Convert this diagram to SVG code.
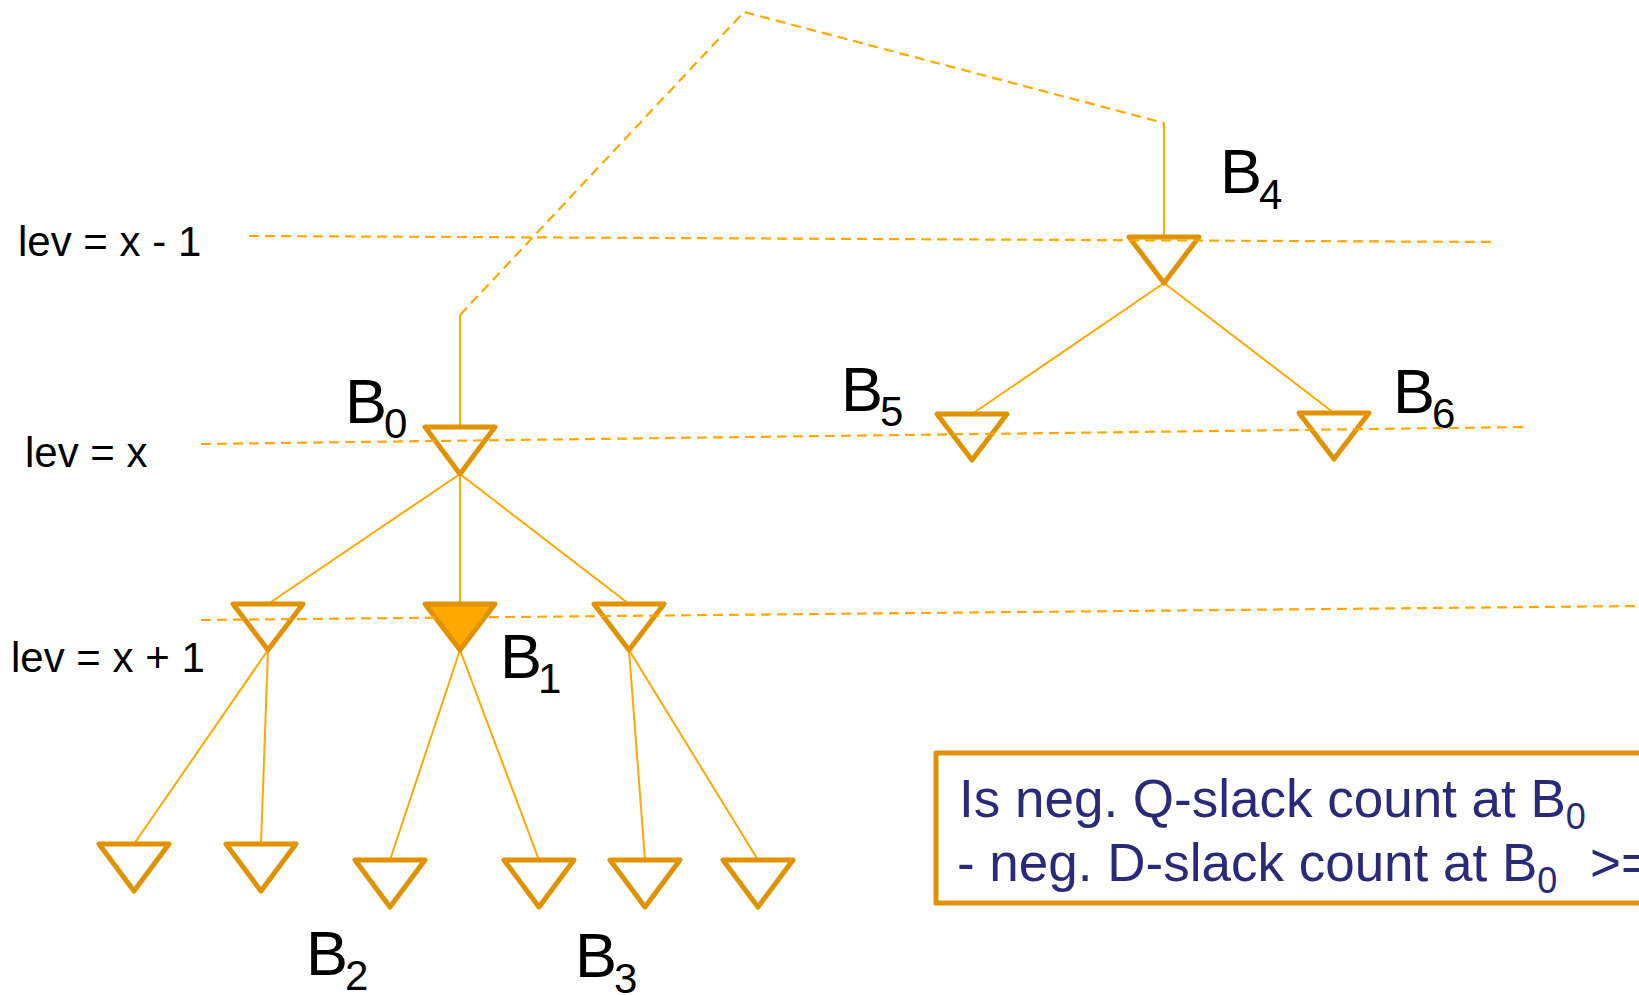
<svg xmlns="http://www.w3.org/2000/svg" width="1639" height="995" viewBox="0 0 1639 995">
  <style>
    .buf { fill: #ffffff; stroke: #E09200; stroke-width: 5; stroke-linejoin: round; }
    .buf.sel { fill: #FFA800; }
    .wire { fill: none; stroke: #FFA800; stroke-width: 2; }
    .dash { fill: none; stroke: #FFA800; stroke-width: 2.2; stroke-dasharray: 10 6; }
    .lvl { font-family: "Liberation Sans", Arial, sans-serif; font-size: 42px; fill: #000; }
    .lbl { font-family: "Liberation Sans", Arial, sans-serif; font-size: 63px; fill: #000; }
    .sub { font-size: 42px; }
    .note { font-family: "Liberation Sans", Arial, sans-serif; font-size: 53px; fill: #2A2A78; }
    .note .s { font-size: 36px; }
    .box { fill: #ffffff; stroke: #E09200; stroke-width: 5; stroke-linejoin: round; }
  </style>

  <rect width="1639" height="995" fill="#ffffff"/>

  <!-- level captions -->
  <text class="lvl" x="18" y="256">lev = x - 1</text>
  <text class="lvl" x="25" y="467">lev = x</text>
  <text class="lvl" x="11" y="672">lev = x + 1</text>

  <!-- connectors -->
  <g id="connectors">
    <!-- upstream route from B0 to B4 -->
    <line class="wire" x1="460" y1="427" x2="460" y2="315"/>
    <polyline class="dash" points="460,315 744,12 1164,123"/>
    <line class="wire" x1="1164" y1="123" x2="1164" y2="237"/>
    <!-- B4 fan-out -->
    <line class="wire" x1="1164" y1="283" x2="972" y2="414"/>
    <line class="wire" x1="1164" y1="283" x2="1334" y2="413"/>
    <!-- B0 fan-out -->
    <line class="wire" x1="460" y1="474" x2="268" y2="604"/>
    <line class="wire" x1="460" y1="474" x2="460" y2="604"/>
    <line class="wire" x1="460" y1="474" x2="629" y2="604"/>
    <!-- level x+1 fan-out -->
    <line class="wire" x1="268" y1="650" x2="134" y2="844"/>
    <line class="wire" x1="268" y1="650" x2="261" y2="844"/>
    <line class="wire" x1="460" y1="650" x2="390" y2="860"/>
    <line class="wire" x1="460" y1="650" x2="539" y2="860"/>
    <line class="wire" x1="629" y1="650" x2="645" y2="860"/>
    <line class="wire" x1="629" y1="650" x2="758" y2="860"/>
  </g>

  <!-- buffers -->
  <g id="B4">
    <path class="buf" d="M1129,237 L1199,237 L1164,283 Z"/>
    <text class="lbl" x="1220" y="193">B<tspan class="sub" x="1259" y="209">4</tspan></text>
  </g>
  <g id="B0">
    <path class="buf" d="M425,427 L495,427 L460,474 Z"/>
    <text class="lbl" x="345" y="423">B<tspan class="sub" x="384" y="438">0</tspan></text>
  </g>
  <g id="B5">
    <path class="buf" d="M937,414 L1007,414 L972,460 Z"/>
    <text class="lbl" x="841" y="411">B<tspan class="sub" x="880" y="426">5</tspan></text>
  </g>
  <g id="B6">
    <path class="buf" d="M1299,413 L1369,413 L1334,459 Z"/>
    <text class="lbl" x="1393" y="413">B<tspan class="sub" x="1432" y="428">6</tspan></text>
  </g>
  <g id="n-x1-left">
    <path class="buf" d="M233,604 L303,604 L268,650 Z"/>
  </g>
  <g id="B1">
    <path class="buf sel" d="M425,604 L495,604 L460,650 Z"/>
    <text class="lbl" x="500" y="678">B<tspan class="sub" x="538" y="693">1</tspan></text>
  </g>
  <g id="n-x1-right">
    <path class="buf" d="M594,604 L664,604 L629,650 Z"/>
  </g>
  <g id="n-leaf-1">
    <path class="buf" d="M99,844 L169,844 L134,891 Z"/>
  </g>
  <g id="n-leaf-2">
    <path class="buf" d="M226,844 L296,844 L261,891 Z"/>
  </g>
  <g id="n-leaf-3">
    <path class="buf" d="M355,860 L425,860 L390,907 Z"/>
  </g>
  <g id="n-leaf-4">
    <path class="buf" d="M504,860 L574,860 L539,907 Z"/>
  </g>
  <g id="n-leaf-5">
    <path class="buf" d="M610,860 L680,860 L645,907 Z"/>
  </g>
  <g id="n-leaf-6">
    <path class="buf" d="M723,860 L793,860 L758,907 Z"/>
  </g>
  <g id="B2">
    <text class="lbl" x="306" y="975">B<tspan class="sub" x="345" y="990">2</tspan></text>
  </g>
  <g id="B3">
    <text class="lbl" x="575" y="977">B<tspan class="sub" x="614" y="993">3</tspan></text>
  </g>

  <!-- level guides -->
  <g id="levels">
    <line class="dash" x1="249" y1="236" x2="1497" y2="242"/>
    <line class="dash" x1="201" y1="444" x2="1526" y2="427"/>
    <line class="dash" x1="201" y1="620" x2="1639" y2="606"/>
  </g>

  <!-- question box -->
  <g id="question">
    <rect class="box" x="936" y="753" width="760" height="150"/>
    <text class="note" x="959" y="817">Is neg. Q-slack count at B<tspan class="s" dy="12">0</tspan></text>
    <text class="note" x="957" y="881">- neg. D-slack count at B<tspan class="s" dy="12">0</tspan><tspan x="1590" y="881">&gt;=</tspan></text>
  </g>
</svg>
